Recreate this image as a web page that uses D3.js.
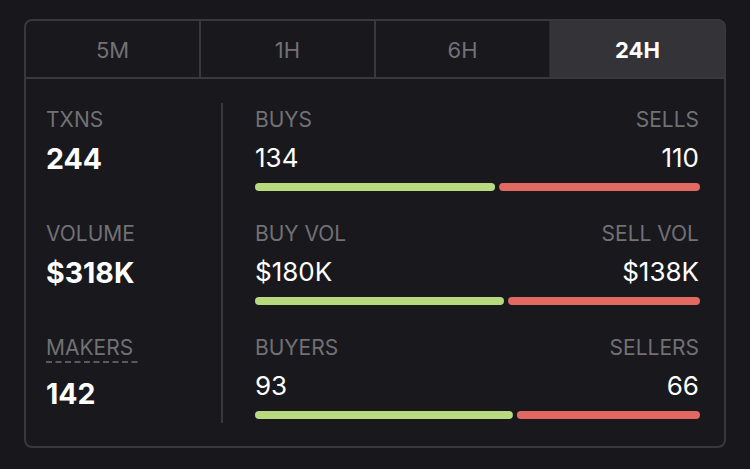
<!DOCTYPE html>
<html>
<head>
<meta charset="utf-8">
<script src="https://cdn.jsdelivr.net/npm/d3@7"></script>
<style>
  html, body { margin: 0; padding: 0; background: #17171c; }
  svg { display: block; font-family: Inter, "Open Sans", sans-serif; }
</style>
</head>
<body>
<svg id="chart" width="750" height="469"></svg>
<script>
// values
var tabs = ["5M", "1H", "6H", "24H"];
var activeTab = "24H";
var leftLabels = ["TXNS", "VOLUME", "MAKERS"];
var leftValues = ["244", "$318K", "142"];
var buyLabels = ["BUYS", "BUY VOL", "BUYERS"];
var sellLabels = ["SELLS", "SELL VOL", "SELLERS"];
var buyValues = ["134", "$180K", "93"];
var sellValues = ["110", "$138K", "66"];
// where green meets red, percent of the bar track
var buyShare = [54.4, 56.4, 58.4];

var grey = "#717176", line = "#38383e", green = "#b9d97f", red = "#e26862";
var svg = d3.select("#chart");

// card outline
svg.append("rect")
    .attr("x", 25).attr("y", 20)
    .attr("width", 700).attr("height", 427)
    .attr("rx", 7)
    .attr("fill", "#18181d")
    .attr("stroke", line)
    .attr("stroke-width", 2);

// tabs
var tabX = d3.scaleBand().domain(tabs).range([25, 725]);

svg.append("path")
    .attr("d", "M" + tabX(activeTab) + ",20H718a7,7 0 0 1 7,7V78H" + tabX(activeTab) + "Z")
    .attr("fill", "#343338")
    .attr("stroke", line)
    .attr("stroke-width", 1);

svg.append("line")
    .attr("x1", 25).attr("x2", 725)
    .attr("y1", 78).attr("y2", 78)
    .attr("stroke", line).attr("stroke-width", 2);

svg.selectAll(".tabLine")
    .data(tabs.slice(1, 3))
    .join("line")
    .attr("class", "tabLine")
    .attr("x1", d => tabX(d)).attr("x2", d => tabX(d))
    .attr("y1", 20).attr("y2", 78)
    .attr("stroke", line).attr("stroke-width", 2);

svg.selectAll(".tabText")
    .data(tabs)
    .join("text")
    .attr("class", "tabText")
    .attr("x", d => tabX(d) + tabX.bandwidth() / 2)
    .attr("y", 57.5)
    .attr("text-anchor", "middle")
    .attr("font-size", 22)
    .attr("font-weight", d => d == activeTab ? 700 : 400)
    .attr("fill", d => d == activeTab ? "#fff" : grey)
    .text(d => d);

// divider between the two columns
svg.append("line")
    .attr("x1", 222).attr("x2", 222)
    .attr("y1", 103).attr("y2", 423)
    .attr("stroke", line).attr("stroke-width", 2);

// rows
var rowY = d3.scalePoint().domain(d3.range(3)).range([126.5, 354.5]);
var shareX = d3.scaleLinear().domain([0, 100]).range([255, 700]);

function addText(labels, x, dy, anchor, size, weight, fill) {
    labels.forEach((t, i) => {
        svg.append("text")
            .attr("x", x)
            .attr("y", rowY(i) + (typeof dy == "function" ? dy(i) : dy))
            .attr("text-anchor", anchor)
            .attr("font-size", size)
            .attr("font-weight", weight)
            .attr("fill", fill)
            .text(t);
    });
}

addText(leftLabels, 46, 0, "start", 21, 400, grey);
addText(leftValues, 46, i => i == 2 ? 49 : 42.5, "start", 28.5, 700, "#fff");
addText(buyLabels, 255, 0, "start", 21, 400, grey);
addText(sellLabels, 699, 0, "end", 21, 400, grey);
addText(buyValues, 255, 40.5, "start", 26, 400, "#fff");
addText(sellValues, 699, 40.5, "end", 26, 400, "#fff");

// dashed underline below MAKERS
svg.append("line")
    .attr("x1", 46).attr("x2", 138)
    .attr("y1", 362).attr("y2", 362)
    .attr("stroke", grey)
    .attr("stroke-width", 1.5)
    .attr("stroke-dasharray", "6 3.5");

// buy and sell bars
buyShare.forEach((s, i) => {
    var top = rowY(i) + 56.5;
    svg.append("rect")
        .attr("x", shareX(0)).attr("y", top)
        .attr("width", shareX(s) - 2 - shareX(0)).attr("height", 8)
        .attr("rx", 4).attr("fill", green);
    svg.append("rect")
        .attr("x", shareX(s) + 2).attr("y", top)
        .attr("width", shareX(100) - shareX(s) - 2).attr("height", 8)
        .attr("rx", 4).attr("fill", red);
});
</script>
</body>
</html>
